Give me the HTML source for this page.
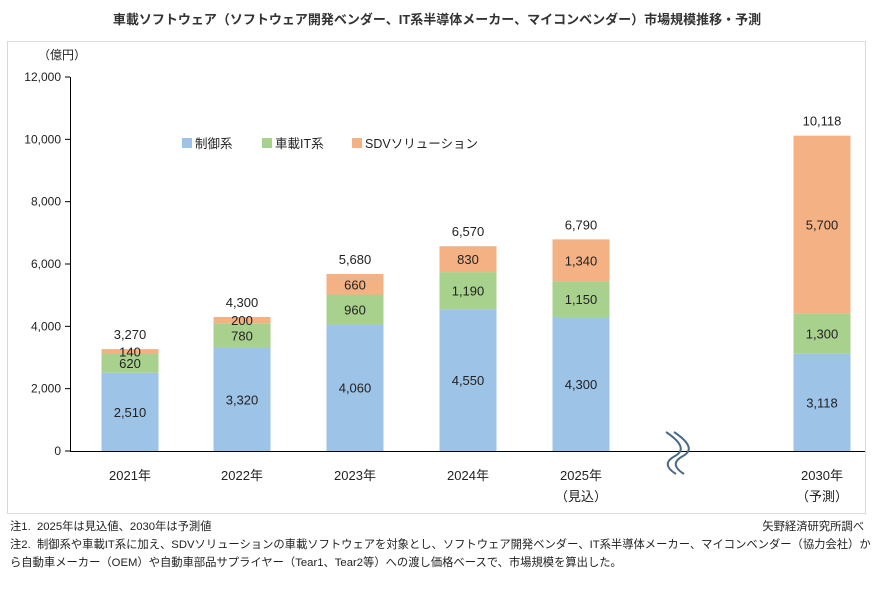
<!DOCTYPE html>
<html><head><meta charset="utf-8">
<style>
body{margin:0;background:#fff;font-family:"Liberation Sans","Noto Sans CJK JP",sans-serif;}
#wrap{position:relative;width:874px;height:596px;overflow:hidden;}
.note{position:absolute;font-size:11.3px;color:#222;white-space:nowrap;}
</style></head>
<body>
<div id="wrap">
<div style="position:absolute;left:0;width:874px;top:9px;text-align:center;font-size:13px;font-weight:bold;color:#333;">車載ソフトウェア（ソフトウェア開発ベンダー、IT系半導体メーカー、マイコンベンダー）市場規模推移・予測</div>
<svg id="chart" width="874" height="596" style="position:absolute;left:0;top:0">
<rect x="7.5" y="41.5" width="858" height="472" fill="none" stroke="#d9d9d9"/>
</svg>
<div class="note" style="left:10px;top:518px">注1.&nbsp; 2025年は見込値、2030年は予測値</div>
<div class="note" style="right:10px;top:518px">矢野経済研究所調べ</div>
<div class="note" style="left:10px;top:536px">注2.&nbsp; 制御系や車載IT系に加え、SDVソリューションの車載ソフトウェアを対象とし、ソフトウェア開発ベンダー、IT系半導体メーカー、マイコンベンダー（協力会社）か</div>
<div class="note" style="left:10px;top:554px">ら自動車メーカー（OEM）や自動車部品サプライヤー（Tear1、Tear2等）への渡し価格ベースで、市場規模を算出した。</div>
</div>
<script>
const categories=["2021年","2022年","2023年","2024年","2025年","2030年"];
const subLabels=["","","","","（見込）","（予測）"];
const control=[2510,3320,4060,4550,4300,3118];
const invehicleIT=[620,780,960,1190,1150,1300];
const sdv=[140,200,660,830,1340,5700];
const totals=[3270,4300,5680,6570,6790,10118];
const yTicks=[0,2000,4000,6000,8000,10000,12000];
const seriesNames=["制御系","車載IT系","SDVソリューション"];

const NS="http://www.w3.org/2000/svg";
const svg=document.getElementById('chart');
const colors=["#9dc3e6","#a9d18e","#f4b183"];
const y0=451,yTop=77,yMax=12000;
const y=v=>y0-(v/yMax)*(y0-yTop);
const centers=[130,242,355,468,581,822];
const x=i=>centers[i];
const bw=57;
function el(tag,attrs,text){const e=document.createElementNS(NS,tag);for(const k in attrs)e.setAttribute(k,attrs[k]);if(text!==undefined)e.textContent=text;svg.appendChild(e);return e;}
const font='"Liberation Sans","Noto Sans CJK JP",sans-serif';

yTicks.forEach(t=>{
 const tl=el('line',{x1:65,x2:70,y1:y(t),y2:y(t),stroke:'#000'});
 
 
 const tx=el('text',{x:61,y:y(t)+4,'text-anchor':'end','font-size':12,'font-family':font,fill:'#222'},t.toLocaleString('en-US'));
 
 
});
const ya=el('line',{x1:70.5,x2:70.5,y1:y(yMax),y2:y0,stroke:'#000'});


const yu=el('text',{x:38,y:59,'font-size':12,'font-family':font,fill:'#222'},'（億円）');



const series=[control,invehicleIT,sdv];
categories.forEach((c,i)=>{
 let base=0;
 series.forEach((s,k)=>{
  const v=s[i];
  const r=el('rect',{x:x(i)-bw/2,y:y(base+v),width:bw,height:y(base)-y(base+v),fill:colors[k]});
  
  
  const lt=el('text',{x:x(i),y:(y(base)+y(base+v))/2+5,'text-anchor':'middle','font-size':13,'font-family':font,fill:'#222'},v.toLocaleString('en-US'));
  
  
  base+=v;
 });
 const tt=el('text',{x:x(i),y:y(totals[i])-10,'text-anchor':'middle','font-size':13,'font-family':font,fill:'#222'},totals[i].toLocaleString('en-US'));
 
 
 const cl=el('text',{x:x(i),y:480,'text-anchor':'middle','font-size':13,'font-family':font,fill:'#222'},c);
 
 
 if(subLabels[i]){
  const sl=el('text',{x:x(i),y:501,'text-anchor':'middle','font-size':13,'font-family':font,fill:'#222'},subLabels[i]);
  
  
 }
});
const xa=el('line',{x1:70,x2:865,y1:y0+0.5,y2:y0+0.5,stroke:'#000'});


[0,8].forEach(d=>{
 const p=el('path',{d:`M${666+d} 432 Q${690+d} 448 ${675+d} 456 Q${660+d} 464 ${676+d} 474`,fill:'none',stroke:'#4a6a8a','stroke-width':2});
 
 
});
const lx=[182,262,352];
seriesNames.forEach((n,k)=>{
 const r=el('rect',{x:lx[k],y:138,width:10,height:10,fill:colors[k]});
 
 
 const t=el('text',{x:lx[k]+13,y:148,'font-size':12.5,'font-family':font,fill:'#222'},n);
 
 
});
</script>
</body></html>
